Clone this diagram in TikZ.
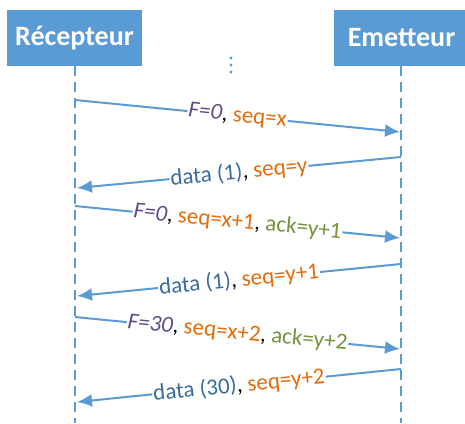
\documentclass[tikz,border=0pt]{standalone}
\usepackage{fontspec}
\setmainfont{Carlito}
\usepackage{tikz}
\usetikzlibrary{arrows.meta, positioning}
\definecolor{boxblue}{HTML}{5B9BD5}
\definecolor{lineblue}{HTML}{5B9BD5}
\definecolor{fpurple}{HTML}{5F4B8B}
\definecolor{seqorange}{HTML}{E46C0A}
\definecolor{ackgreen}{HTML}{77933C}
\definecolor{datablue}{HTML}{3A6C9E}

\begin{document}
\begin{tikzpicture}[x=1pt, y=-1pt,
entite/.style={fill=boxblue, text=white, font=\fontsize{28}{32}\selectfont\bfseries, minimum width=135pt, minimum height=56pt, inner sep=0pt},
vie/.style={draw=lineblue, line width=1.5pt, dash pattern=on 10pt off 6pt},
msg/.style={draw=lineblue, line width=2pt, -{Latex[length=15pt, width=13pt]}},
lbl/.style={fill=white, sloped, inner sep=1pt, font=\fontsize{23}{27}\selectfont}
]
\useasboundingbox (0,0) rectangle (465,423);

% Entites
\node[entite] (rec) at (74.5,38) {Récepteur};
\node[entite] (emet) at (401.5,38) {Emetteur};

% Lignes de vie
\coordinate (recfin) at (75,423);
\coordinate (emetfin) at (401,423);
\draw[vie] (rec.south -| recfin) -- (recfin);
\draw[vie] (emet.south -| emetfin) -- (emetfin);

% Points de suite
\fill[lineblue] (231,58) circle (1.7) (231,65) circle (1.7) (231,72) circle (1.7);

% Points sur les lignes de vie
\coordinate (r1) at (75,100);  \coordinate (e1) at (400,132);
\coordinate (e2) at (401,157); \coordinate (r2) at (77,188);
\coordinate (r3) at (75,206);  \coordinate (e3) at (400,238);
\coordinate (e4) at (401,264); \coordinate (r4) at (77,296);
\coordinate (r5) at (75,317);  \coordinate (e5) at (400,349);
\coordinate (e6) at (401,369); \coordinate (r6) at (77,402);

% Messages
\draw[msg] (r1) -- node[lbl] {\textcolor{fpurple}{\itshape F=0}, \textcolor{seqorange}{seq=x}} (e1);
\draw[msg] (e2) -- node[lbl] {\textcolor{datablue}{data (1)}, \textcolor{seqorange}{seq=y}} (r2);
\draw[msg] (r3) -- node[lbl] {\textcolor{fpurple}{\itshape F=0}, \textcolor{seqorange}{seq=x+1}, \textcolor{ackgreen}{ack=y+1}} (e3);
\draw[msg] (e4) -- node[lbl] {\textcolor{datablue}{data (1)}, \textcolor{seqorange}{seq=y+1}} (r4);
\draw[msg] (r5) -- node[lbl] {\textcolor{fpurple}{\itshape F=30}, \textcolor{seqorange}{seq=x+2}, \textcolor{ackgreen}{ack=y+2}} (e5);
\draw[msg] (e6) -- node[lbl] {\textcolor{datablue}{data (30)}, \textcolor{seqorange}{seq=y+2}} (r6);

\end{tikzpicture}
\end{document}
